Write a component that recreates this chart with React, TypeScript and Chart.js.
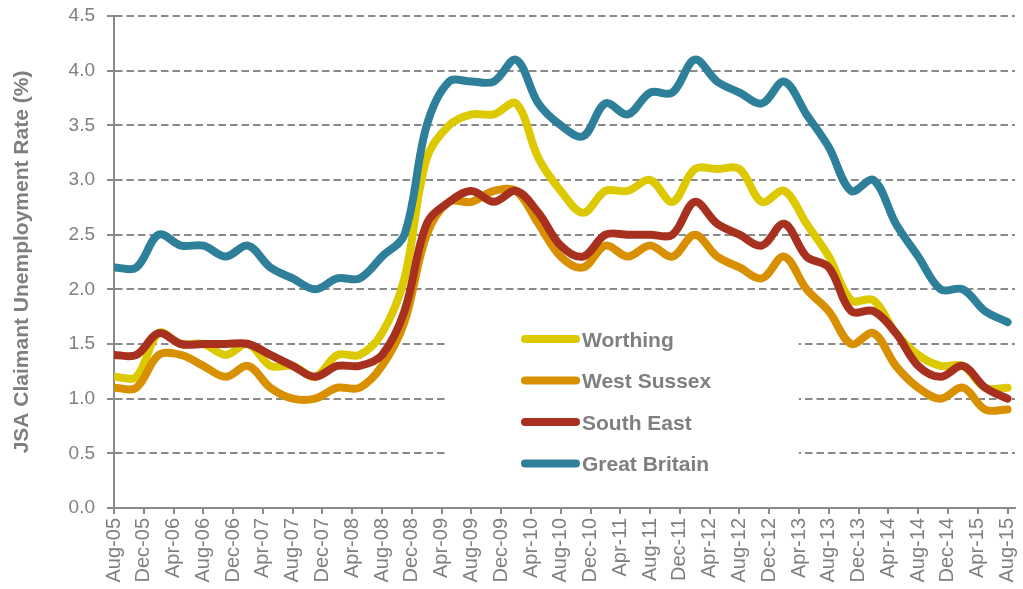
import React, { useEffect, useRef } from "react";
import { Chart, registerables } from "chart.js";

Chart.register(...registerables);

// Quarterly observation dates
const periods = [
  "Aug-05", "Nov-05", "Feb-06", "May-06", "Aug-06", "Nov-06", "Feb-07", "May-07",
  "Aug-07", "Nov-07", "Feb-08", "May-08", "Aug-08", "Nov-08", "Feb-09", "May-09",
  "Aug-09", "Nov-09", "Feb-10", "May-10", "Aug-10", "Nov-10", "Feb-11", "May-11",
  "Aug-11", "Nov-11", "Feb-12", "May-12", "Aug-12", "Nov-12", "Feb-13", "May-13",
  "Aug-13", "Nov-13", "Feb-14", "May-14", "Aug-14", "Nov-14", "Feb-15", "May-15",
  "Aug-15",
];

const worthing = [
  1.2, 1.2, 1.6, 1.5, 1.5, 1.4, 1.5, 1.3, 1.3, 1.2, 1.4, 1.4, 1.6, 2.1, 3.2, 3.5,
  3.6, 3.6, 3.7, 3.2, 2.9, 2.7, 2.9, 2.9, 3.0, 2.8, 3.1, 3.1, 3.1, 2.8, 2.9, 2.6,
  2.3, 1.9, 1.9, 1.6, 1.4, 1.3, 1.3, 1.1, 1.1,
];

const westSussex = [
  1.1, 1.1, 1.4, 1.4, 1.3, 1.2, 1.3, 1.1, 1.0, 1.0, 1.1, 1.1, 1.3, 1.7, 2.5, 2.8,
  2.8, 2.9, 2.9, 2.6, 2.3, 2.2, 2.4, 2.3, 2.4, 2.3, 2.5, 2.3, 2.2, 2.1, 2.3, 2.0,
  1.8, 1.5, 1.6, 1.3, 1.1, 1.0, 1.1, 0.9, 0.9,
];

const southEast = [
  1.4, 1.4, 1.6, 1.5, 1.5, 1.5, 1.5, 1.4, 1.3, 1.2, 1.3, 1.3, 1.4, 1.8, 2.6, 2.8,
  2.9, 2.8, 2.9, 2.7, 2.4, 2.3, 2.5, 2.5, 2.5, 2.5, 2.8, 2.6, 2.5, 2.4, 2.6, 2.3,
  2.2, 1.8, 1.8, 1.6, 1.3, 1.2, 1.3, 1.1, 1.0,
];

const greatBritain = [
  2.2, 2.2, 2.5, 2.4, 2.4, 2.3, 2.4, 2.2, 2.1, 2.0, 2.1, 2.1, 2.3, 2.5, 3.5, 3.9,
  3.9, 3.9, 4.1, 3.7, 3.5, 3.4, 3.7, 3.6, 3.8, 3.8, 4.1, 3.9, 3.8, 3.7, 3.9, 3.6,
  3.3, 2.9, 3.0, 2.6, 2.3, 2.0, 2.0, 1.8, 1.7,
];

// Axis tick labels (every four months)
const axisLabels = [
  "Aug-05", "Dec-05", "Apr-06", "Aug-06", "Dec-06", "Apr-07", "Aug-07", "Dec-07",
  "Apr-08", "Aug-08", "Dec-08", "Apr-09", "Aug-09", "Dec-09", "Apr-10", "Aug-10",
  "Dec-10", "Apr-11", "Aug-11", "Dec-11", "Apr-12", "Aug-12", "Dec-12", "Apr-13",
  "Aug-13", "Dec-13", "Apr-14", "Aug-14", "Dec-14", "Apr-15", "Aug-15",
];

const seriesNames = ["Worthing", "West Sussex", "South East", "Great Britain"];
const seriesColors = ["#DDC900", "#D99000", "#A8301E", "#2E7F9A"];
const seriesValues = [worthing, westSussex, southEast, greatBritain];

const yTitle = "JSA Claimant Unemployment Rate (%)";

const MONTHS = ["Jan", "Feb", "Mar", "Apr", "May", "Jun", "Jul", "Aug", "Sep", "Oct", "Nov", "Dec"];
const monthIndex = (label: string) => {
  const [m, y] = label.split("-");
  return (2000 + Number(y)) * 12 + MONTHS.indexOf(m);
};
const origin = monthIndex(axisLabels[0]);
const toX = (label: string) => monthIndex(label) - origin;

const FONT = "'Liberation Sans', Arial, Helvetica, sans-serif";
const GREY_TEXT = "#7f7f7f";
const GREY_LINE = "#8a8a8a";

const legendPlugin = {
  id: "boxLegend",
  beforeDatasetsDraw(chart: any) {
    const { ctx, chartArea } = chart;
    const w = chartArea.right - chartArea.left;
    const boxLeft = chartArea.left + w * 0.368;
    const boxRight = chartArea.left + w * 0.76;
    const boxTop = chartArea.top + 284;
    const boxBottom = chartArea.bottom - 8;
    ctx.save();
    ctx.fillStyle = "#ffffff";
    ctx.fillRect(boxLeft, boxTop, boxRight - boxLeft, boxBottom - boxTop);
    const lineStart = 525;
    const lineEnd = 576;
    const textX = 582;
    const rowY0 = 339;
    const rowGap = 41.5;
    seriesNames.forEach((name, i) => {
      const y = rowY0 + i * rowGap;
      ctx.beginPath();
      ctx.strokeStyle = seriesColors[i];
      ctx.lineWidth = 8;
      ctx.lineCap = "round";
      ctx.moveTo(lineStart, y);
      ctx.lineTo(lineEnd, y);
      ctx.stroke();
      ctx.fillStyle = GREY_TEXT;
      ctx.font = `bold 21px ${FONT}`;
      ctx.textAlign = "left";
      ctx.textBaseline = "alphabetic";
      ctx.fillText(name, textX, y + 7.5);
    });
    ctx.restore();
  },
};

export default function App() {
  const canvasRef = useRef<HTMLCanvasElement | null>(null);

  useEffect(() => {
    document.body.style.margin = "0";
    const canvas = canvasRef.current;
    if (!canvas) return;

    const datasets = seriesNames.map((name, i) => ({
      label: name,
      data: periods.map((p, j) => ({ x: toX(p), y: seriesValues[i][j] })),
      borderColor: seriesColors[i],
      backgroundColor: seriesColors[i],
      borderWidth: 8,
      borderCapStyle: "round" as const,
      borderJoinStyle: "round" as const,
      pointRadius: 0,
      tension: 0.35,
      fill: false,
      order: seriesNames.length - i,
    }));

    const chart = new Chart(canvas, {
      type: "line",
      data: { datasets },
      options: {
        responsive: false,
        maintainAspectRatio: false,
        animation: false,
        devicePixelRatio: 1,
        layout: { padding: { left: 10, top: 16, right: 8, bottom: 0 } },
        plugins: {
          legend: { display: false },
          tooltip: { enabled: false },
        },
        scales: {
          x: {
            type: "linear",
            min: 0,
            max: 121,
            afterBuildTicks: (scale: any) => {
              scale.ticks = axisLabels.map((l) => ({ value: toX(l) }));
            },
            afterFit: (scale: any) => {
              scale.height = 81;
              scale.paddingLeft = 0;
              scale.paddingRight = 0;
            },
            grid: {
              display: true,
              drawOnChartArea: false,
              drawTicks: true,
              tickLength: 6,
              color: GREY_LINE,
              lineWidth: 2,
            },
            border: { display: true, color: GREY_LINE, width: 2 },
            ticks: {
              autoSkip: false,
              minRotation: 90,
              maxRotation: 90,
              padding: 4,
              color: GREY_TEXT,
              font: { family: FONT, size: 20 },
              callback: (_v: any, index: number) => axisLabels[index],
            },
          },
          y: {
            type: "linear",
            min: 0,
            max: 4.5,
            afterFit: (scale: any) => {
              scale.width = 104;
              scale.paddingTop = 0;
              scale.paddingBottom = 0;
            },
            grid: {
              display: true,
              drawOnChartArea: true,
              drawTicks: true,
              tickLength: 7,
              color: GREY_LINE,
              lineWidth: 2,
              tickBorderDash: [],
              tickColor: GREY_LINE,
              tickWidth: 2,
            } as any,
            border: { display: true, color: GREY_LINE, width: 2, dash: [7.5, 4] } as any,
            ticks: {
              stepSize: 0.5,
              padding: 12,
              color: GREY_TEXT,
              font: { family: FONT, size: 19 },
              callback: (v: any) => Number(v).toFixed(1),
            },
            title: {
              display: true,
              text: yTitle,
              color: GREY_TEXT,
              font: { family: FONT, size: 21, weight: "bold" },
              padding: { top: 0, bottom: 0 },
            },
          },
        },
      },
      plugins: [legendPlugin],
    } as any);

    return () => chart.destroy();
  }, []);

  return (
    <canvas
      ref={canvasRef}
      width={1023}
      height={589}
      style={{ display: "block", width: "1023px", height: "589px" }}
    />
  );
}
